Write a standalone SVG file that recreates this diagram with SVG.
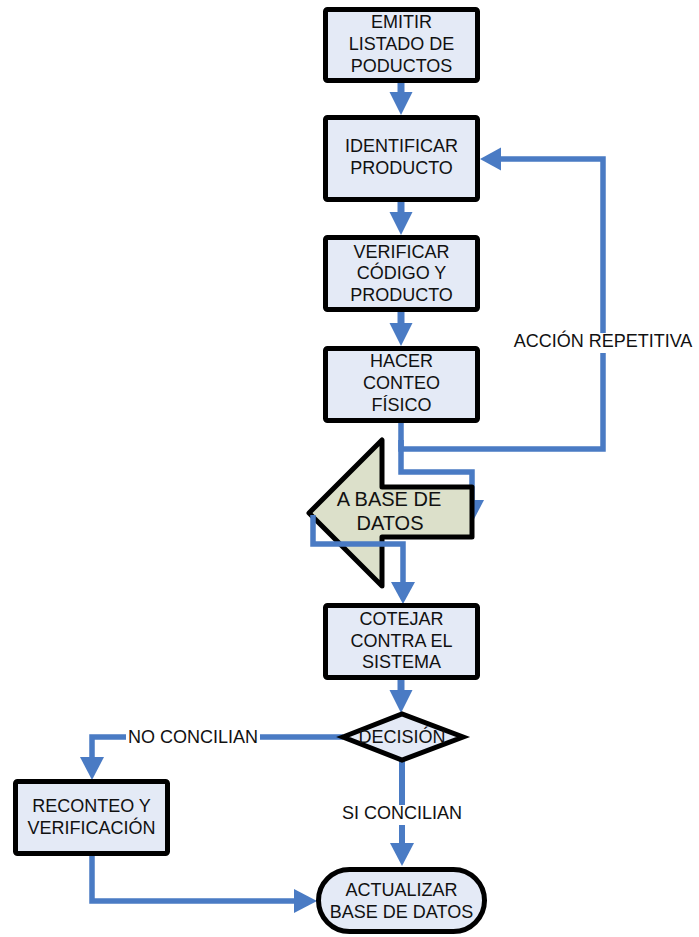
<svg xmlns="http://www.w3.org/2000/svg" width="699" height="937" viewBox="0 0 699 937">
  <style>
    .box { fill: #E4EAF6; stroke: #000; stroke-width: 5; }
    .txt { font-family: "Liberation Sans", Arial, sans-serif; font-size: 18px; fill: #111; text-anchor: middle; }
    .big { font-size: 20px; }
    .main { stroke: #4A7BC4; stroke-width: 7; fill: none; }
    .flow { stroke: #4A7BC4; stroke-width: 5.5; fill: none; stroke-linejoin: miter; }
    .head { fill: #4A7BC4; }
    .bg { fill: #fff; }
  </style>

  <!-- connectors -->
  <g id="connectors">
    <!-- straight steps between boxes -->
    <line class="main" x1="401" y1="83" x2="401" y2="94"/>
    <polygon class="head" points="389.5,92 412.5,92 401,115"/>
    <line class="main" x1="401" y1="202" x2="401" y2="214"/>
    <polygon class="head" points="389.5,212 412.5,212 401,235"/>
    <line class="main" x1="401" y1="312" x2="401" y2="325"/>
    <polygon class="head" points="389.5,323 412.5,323 401,346"/>
    <line class="main" x1="401" y1="680" x2="401" y2="692"/>
    <polygon class="head" points="389.5,690 412.5,690 401,713"/>

    <!-- repeat loop back to IDENTIFICAR -->
    <polyline class="flow" points="401,423 401,449 603,449 603,159 499,159"/>
    <polygon class="head" points="501,147.5 501,170.5 480,159"/>

    <!-- into the database arrow -->
    <polyline class="flow" points="401,440 401,472 472,472 472,502"/>
    <polygon class="head" points="460,500 484,500 472,523"/>
  </g>

  <!-- big arrow shape -->
  <g id="to-database">
    <polygon points="309,513 382,440 382,487 472,487 472,537 382,537 382,586" fill="#DCE0CA" stroke="#000" stroke-width="5" stroke-linejoin="round"/>
    <text class="txt big" x="389" y="506">A BASE DE</text>
    <text class="txt big" x="390" y="530">DATOS</text>
  </g>

  <g id="connectors-lower">
    <!-- out of the database arrow to COTEJAR -->
    <polyline class="flow" points="313,515 313,544 403,544 403,584"/>
    <polygon class="head" points="391,582 415,582 403,604"/>

    <!-- NO CONCILIAN branch -->
    <polyline class="flow" points="343,737 92,737 92,759"/>
    <polygon class="head" points="80,757 104,757 92,780"/>

    <!-- SI CONCILIAN branch -->
    <line class="flow" x1="402" y1="760" x2="402" y2="845" style="stroke-width:6"/>
    <polygon class="head" points="390,843 414,843 402,866"/>

    <!-- RECONTEO to ACTUALIZAR -->
    <polyline class="flow" points="92,856 92,901 296,901"/>
    <polygon class="head" points="294,889 294,913 317,901"/>

    <!-- labels -->
    <rect class="bg" x="126" y="728" width="134" height="20"/>
    <text class="txt" x="193" y="743">NO CONCILIAN</text>
    <rect class="bg" x="339" y="805" width="126" height="20"/>
    <text class="txt" x="402" y="819">SI CONCILIAN</text>
    <rect class="bg" x="511" y="333" width="184" height="20"/>
    <text class="txt" x="603" y="347">ACCIÓN REPETITIVA</text>
  </g>

  <!-- nodes -->
  <g id="emitir">
    <rect class="box" x="325.5" y="9.5" width="152" height="71" rx="2"/>
    <text class="txt" x="401.5" y="28">EMITIR</text>
    <text class="txt" x="401.5" y="50">LISTADO DE</text>
    <text class="txt" x="401.5" y="72">PODUCTOS</text>
  </g>
  <g id="identificar">
    <rect class="box" x="325.5" y="117.5" width="152" height="82" rx="2"/>
    <text class="txt" x="401.5" y="152">IDENTIFICAR</text>
    <text class="txt" x="401.5" y="174">PRODUCTO</text>
  </g>
  <g id="verificar">
    <rect class="box" x="325.5" y="237.5" width="152" height="72" rx="2"/>
    <text class="txt" x="401.5" y="258">VERIFICAR</text>
    <text class="txt" x="401.5" y="279">CÓDIGO Y</text>
    <text class="txt" x="401.5" y="301">PRODUCTO</text>
  </g>
  <g id="conteo">
    <rect class="box" x="325.5" y="348.5" width="152" height="72" rx="2"/>
    <text class="txt" x="401.5" y="367">HACER</text>
    <text class="txt" x="401.5" y="389">CONTEO</text>
    <text class="txt" x="401.5" y="411">FÍSICO</text>
  </g>
  <g id="cotejar">
    <rect class="box" x="325.5" y="605.5" width="152" height="72" rx="2"/>
    <text class="txt" x="401.5" y="625">COTEJAR</text>
    <text class="txt" x="401.5" y="647">CONTRA EL</text>
    <text class="txt" x="401.5" y="668">SISTEMA</text>
  </g>
  <g id="decision">
    <polygon class="box" points="343,737 402,714 463,737 402,760"/>
    <text class="txt" x="402" y="743">DECISIÓN</text>
  </g>
  <g id="reconteo">
    <rect class="box" x="15.5" y="781.5" width="152" height="72" rx="2"/>
    <text class="txt" x="91.5" y="812">RECONTEO Y</text>
    <text class="txt" x="91.5" y="834">VERIFICACIÓN</text>
  </g>
  <g id="actualizar">
    <rect class="box" x="318.5" y="869.5" width="166" height="62" rx="31" ry="31"/>
    <text class="txt" x="401.5" y="896">ACTUALIZAR</text>
    <text class="txt" x="401.5" y="918">BASE DE DATOS</text>
  </g>
</svg>
